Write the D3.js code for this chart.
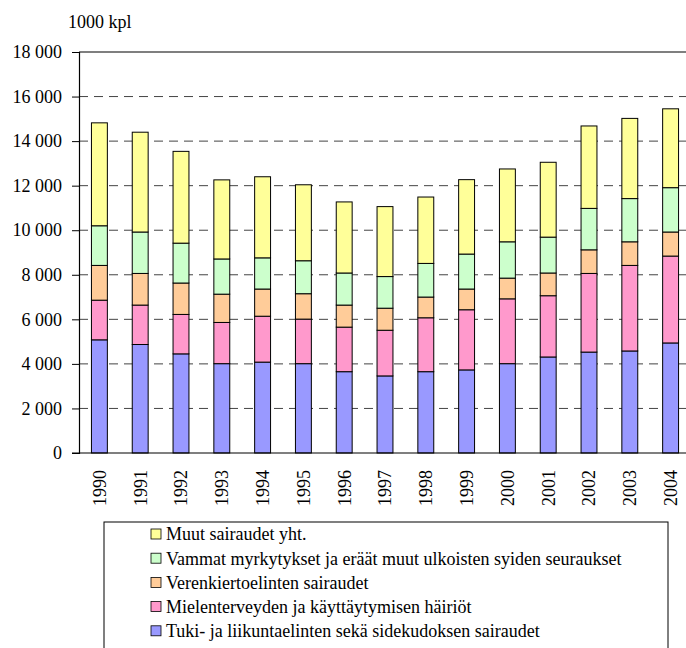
<!DOCTYPE html>
<html>
<head>
<meta charset="utf-8">
<script src="https://cdn.jsdelivr.net/npm/d3@7"></script>
<style>
  body { margin: 0; background: #fff; }
  svg { display: block; }
  .grid line { stroke: #444; stroke-dasharray: 9 6; }
</style>
</head>
<body>
<svg id="chart" width="686" height="648"></svg>
<script>
// --- data (1000 kpl) ---
const years = ['1990','1991','1992','1993','1994','1995','1996','1997','1998','1999','2000','2001','2002','2003','2004'];
const tuki    = [5080, 4870, 4450, 4010, 4080, 4010, 3650, 3460, 3650, 3730, 4010, 4310, 4530, 4580, 4940];
const mieli   = [1780, 1770, 1770, 1850, 2060, 2000, 2000, 2050, 2420, 2700, 2910, 2750, 3530, 3840, 3900];
const veren   = [1560, 1420, 1410, 1270, 1220, 1140,  990,  990,  930,  930,  930, 1020, 1060, 1060, 1080];
const vammat  = [1780, 1860, 1790, 1580, 1400, 1480, 1440, 1420, 1510, 1570, 1630, 1610, 1860, 1940, 1990];
const muut    = [4620, 4480, 4120, 3550, 3640, 3410, 3190, 3140, 2980, 3340, 3270, 3360, 3700, 3600, 3540];
const yTicks  = [0, 2000, 4000, 6000, 8000, 10000, 12000, 14000, 16000, 18000];

// stacking order bottom -> top
const series = [
  { key: 'tuki',   name: 'Tuki- ja liikuntaelinten sekä sidekudoksen sairaudet', values: tuki,   color: '#9999ff' },
  { key: 'mieli',  name: 'Mielenterveyden ja käyttäytymisen häiriöt',            values: mieli,  color: '#ff99cc' },
  { key: 'veren',  name: 'Verenkiertoelinten sairaudet',                          values: veren,  color: '#ffcc99' },
  { key: 'vammat', name: 'Vammat myrkytykset ja eräät muut ulkoisten syiden seuraukset', values: vammat, color: '#ccffcc' },
  { key: 'muut',   name: 'Muut sairaudet yht.',                                   values: muut,   color: '#ffff99' }
];

const rows = years.map((yr, i) => {
  const r = { year: yr };
  series.forEach(s => { r[s.key] = s.values[i]; });
  return r;
});

const FONT = "'Liberation Serif', 'Times New Roman', serif";
const svg = d3.select('#chart');
const plotL = 79, plotR = 691, plotT = 52, plotB = 453;

const x = d3.scaleBand().domain(years).range([plotL, plotR]).paddingInner(0.61).paddingOuter(0.305);
const y = d3.scaleLinear().domain([0, 18000]).range([plotB, plotT]);

const fmt = v => d3.format(',')(v).replace(/,/g, '\u00a0');

// gridlines
svg.append('g')
  .attr('class', 'grid')
  .selectAll('line')
  .data(yTicks.filter(t => t > 0 && t < 18000))
  .join('line')
  .attr('x1', plotL).attr('x2', 686)
  .attr('y1', d => y(d)).attr('y2', d => y(d));

// top border
svg.append('line')
  .attr('x1', plotL).attr('x2', 686)
  .attr('y1', y(18000)).attr('y2', y(18000))
  .attr('stroke', '#000').attr('stroke-width', 1.2);

// stacked bars
const stacked = d3.stack().keys(series.map(s => s.key))(rows);

svg.append('g')
  .selectAll('g')
  .data(stacked)
  .join('g')
  .attr('fill', (d, i) => series[i].color)
  .selectAll('rect')
  .data(d => d)
  .join('rect')
  .attr('x', d => x(d.data.year))
  .attr('width', x.bandwidth())
  .attr('y', d => y(d[1]))
  .attr('height', d => y(d[0]) - y(d[1]))
  .attr('stroke', '#000')
  .attr('stroke-width', 1);

// y axis
const yAxis = svg.append('g')
  .attr('transform', `translate(${plotL},0)`)
  .call(d3.axisLeft(y).tickValues(yTicks).tickSize(7).tickFormat(fmt));
yAxis.select('.domain').attr('stroke', '#000').attr('stroke-width', 1.2);
yAxis.selectAll('.tick line').attr('stroke', '#000');
yAxis.selectAll('.tick text')
  .attr('x', -17)
  .attr('fill', '#000')
  .style('font-family', FONT)
  .style('font-size', '18px');

// x axis
const xAxis = svg.append('g')
  .attr('transform', `translate(0,${plotB})`)
  .call(d3.axisBottom(x).tickSize(0));
xAxis.select('.domain').remove();
svg.append('line')
  .attr('x1', 72).attr('x2', 686)
  .attr('y1', plotB).attr('y2', plotB)
  .attr('stroke', '#000').attr('stroke-width', 1.2);
xAxis.selectAll('.tick text')
  .attr('fill', '#000')
  .style('font-family', FONT)
  .style('font-size', '18px')
  .attr('transform', 'rotate(-90)')
  .attr('text-anchor', 'end')
  .attr('dy', '0.35em')
  .attr('x', -17)
  .attr('y', 0);

// unit label
svg.append('text')
  .attr('x', 68).attr('y', 28)
  .style('font-family', FONT)
  .style('font-size', '18px')
  .text('1000 kpl');

// legend
const legend = svg.append('g');
legend.append('rect')
  .attr('x', 104).attr('y', 522)
  .attr('width', 564).attr('height', 140)
  .attr('fill', 'none')
  .attr('stroke', '#000');

const legendItems = series.slice().reverse();
const li = legend.selectAll('g.item')
  .data(legendItems)
  .join('g')
  .attr('class', 'item')
  .attr('transform', (d, i) => `translate(151,${534 + i * 24.2})`);

li.append('rect')
  .attr('x', 0).attr('y', -5)
  .attr('width', 10).attr('height', 10)
  .attr('fill', d => d.color)
  .attr('stroke', '#000')
  .attr('stroke-width', 0.8);

li.append('text')
  .attr('x', 15).attr('y', 0)
  .attr('dy', '0.35em')
  .style('font-family', FONT)
  .style('font-size', '18px')
  .text(d => d.name);
</script>
</body>
</html>
